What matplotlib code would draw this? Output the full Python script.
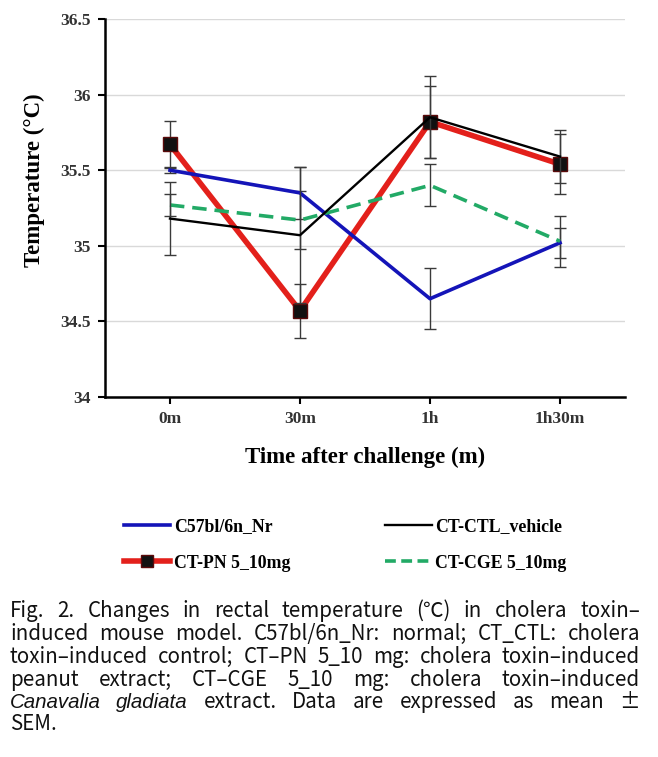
import matplotlib
matplotlib.use("Agg")
import matplotlib.pyplot as plt
from matplotlib.lines import Line2D
import numpy as np

# Data
time_labels = ["0m", "30m", "1h", "1h30m"]
series_names = ["C57bl/6n_Nr", "CT-CTL_vehicle", "CT-PN 5_10mg", "CT-CGE 5_10mg"]

nr_mean = [35.50, 35.35, 34.65, 35.02]
nr_sem = [0.02, 0.17, 0.20, 0.10]
ctl_mean = [35.18, 35.07, 35.85, 35.59]
ctl_sem = [0.24, 0.45, 0.27, 0.175]
pn_mean = [35.67, 34.57, 35.82, 35.54]
pn_sem = [0.155, 0.18, 0.24, 0.20]
cge_mean = [35.27, 35.17, 35.40, 35.03]
cge_sem = [0.07, 0.19, 0.14, 0.17]

y_ticks = [34, 34.5, 35, 35.5, 36, 36.5]
y_tick_labels = ["34", "34.5", "35", "35.5", "36", "36.5"]

caption_lines = [
    "Fig. 2. Changes in rectal temperature (\u2103) in cholera toxin\u2013",
    "induced mouse model. C57bl/6n_Nr: normal; CT_CTL: cholera",
    "toxin\u2013induced control; CT\u2013PN 5_10 mg: cholera toxin\u2013induced",
    "peanut extract; CT\u2013CGE 5_10 mg: cholera toxin\u2013induced",
    "Canavalia gladiata extract. Data are expressed as mean \u00b1",
    "SEM.",
]
italic_words = {"Canavalia", "gladiata"}

W, H = 658, 757
fig = plt.figure(figsize=(W / 100, H / 100), dpi=100)
ax = fig.add_axes([105 / W, 1 - 397 / H, 520 / W, 378 / H])

x = np.arange(len(time_labels)) + 0.5
serif = "Liberation Serif"
err_style = dict(ecolor="#3a3a3a", elinewidth=1.0, capsize=4, capthick=1.0)

ax.errorbar(x, pn_mean, yerr=pn_sem, color="#e3201b", lw=4.0, marker="s",
            markersize=10, markerfacecolor="#111111", markeredgecolor="#5a0a0a",
            zorder=3, **err_style)
ax.errorbar(x, nr_mean, yerr=nr_sem, color="#1414b8", lw=2.6, zorder=4, **err_style)
ax.errorbar(x, cge_mean, yerr=cge_sem, color="#22aa66", lw=2.6, ls=(0, (4, 2.2)),
            zorder=4, **err_style)
ax.errorbar(x, ctl_mean, yerr=ctl_sem, color="black", lw=1.7, zorder=5, **err_style)

ax.set_xlim(0, 4)
ax.set_ylim(34, 36.5)
ax.set_yticks(y_ticks)
ax.set_yticklabels(y_tick_labels)
ax.set_xticks(x)
ax.set_xticklabels(time_labels)
ax.yaxis.grid(True, color="#d9d9d9", lw=1.0)
ax.set_axisbelow(True)
for s in ["top", "right"]:
    ax.spines[s].set_visible(False)
for s in ["left", "bottom"]:
    ax.spines[s].set_linewidth(1.8)
ax.tick_params(axis="both", direction="out", length=5, width=1.5, pad=5,
               labelsize=12.5, labelcolor="#333333")
for lab in ax.get_xticklabels() + ax.get_yticklabels():
    lab.set_fontfamily(serif)
    lab.set_fontweight("bold")

ax.set_ylabel("Temperature (\u00b0C)", fontfamily=serif, fontweight="bold",
              fontsize=16.5)
ax.yaxis.set_label_coords(-0.115, 0.574)
ax.set_xlabel("Time after challenge (m)", fontfamily=serif, fontweight="bold",
              fontsize=16.5, labelpad=14)

# Legend
handles = [
    Line2D([], [], color="#1414b8", lw=2.6),
    Line2D([], [], color="#e3201b", lw=4.0, marker="s", markersize=8,
           markerfacecolor="#111111", markeredgecolor="#5a0a0a"),
    Line2D([], [], color="black", lw=1.7),
    Line2D([], [], color="#22aa66", lw=2.6, ls=(0, (3, 1.5))),
]
labels = [series_names[0], series_names[2], series_names[1], series_names[3]]
fig.legend(handles, labels, ncol=2, loc="upper left",
           bbox_to_anchor=(117 / W, 1 - 511 / H), frameon=False,
           prop={"family": serif, "weight": "bold", "size": 12.8},
           handlelength=2.6, handletextpad=0.2, columnspacing=5.35,
           labelspacing=1.1, borderaxespad=0)

# Justified caption, word by word
cap_font = ["Noto Sans CJK KR", "DejaVu Sans"]
left_px, right_px = 10, 640
line_y = [611, 634, 657, 680, 702, 724]
renderer = fig.canvas.get_renderer()
for i, line in enumerate(caption_lines):
    words = line.split(" ")
    texts = []
    for w in words:
        style = "italic" if w in italic_words else "normal"
        fam = ["Liberation Sans"] if w in italic_words else cap_font
        t = fig.text(0, 1 - line_y[i] / H, w, fontsize=14.8, family=fam,
                     style=style, va="center", ha="left", color="#111111")
        texts.append(t)
    widths = [t.get_window_extent(renderer).width for t in texts]
    last = i == len(caption_lines) - 1
    if last or len(words) == 1:
        gap = 7.0
    else:
        gap = (right_px - left_px - sum(widths)) / (len(words) - 1)
    pos = left_px
    for t, wd in zip(texts, widths):
        t.set_x(pos / W)
        pos += wd + gap

fig.savefig("out.png", dpi=100)
